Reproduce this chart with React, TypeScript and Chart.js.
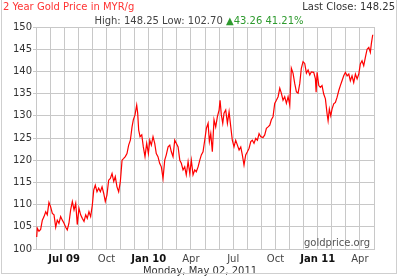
import React, { useEffect, useRef } from "react";
import { Chart, registerables } from "chart.js";

Chart.register(...registerables);

// months since May 1, 2009
const monthPos = [
  0.05, 0.09, 0.21, 0.33, 0.45, 0.57, 0.69, 0.8, 0.92, 1.04, 1.16, 1.28, 1.4, 1.51, 1.63, 1.75, 1.87, 1.99,
  2.11, 2.22, 2.34, 2.46, 2.58, 2.7, 2.82, 2.93, 3.05, 3.17, 3.29, 3.41, 3.53, 3.64, 3.76, 3.88, 4.0,
  4.1, 4.21, 4.33, 4.45, 4.57, 4.69, 4.81, 4.92, 5.04, 5.16, 5.28, 5.4, 5.52, 5.63, 5.75, 5.87, 5.99,
  6.11, 6.23, 6.34, 6.46, 6.58, 6.7, 6.82, 6.91, 7.03, 7.15, 7.22, 7.29, 7.39, 7.51, 7.62, 7.74, 7.86, 7.98,
  8.08, 8.19, 8.31, 8.43, 8.54, 8.66, 8.78, 8.9, 9.02, 9.14, 9.25, 9.38, 9.5, 9.61, 9.73, 9.85, 9.96,
  10.09, 10.21, 10.32, 10.44, 10.56, 10.67, 10.8, 10.92, 11.03, 11.15, 11.27, 11.38, 11.51, 11.63, 11.74, 11.86, 11.98,
  12.1, 12.22, 12.31, 12.41, 12.52, 12.64, 12.76, 12.88, 13.0, 13.07, 13.16, 13.26, 13.35, 13.47, 13.59, 13.71, 13.83, 13.94,
  14.06, 14.18, 14.3, 14.42, 14.54, 14.65, 14.77, 14.89, 15.01, 15.13, 15.25, 15.36, 15.48, 15.6, 15.72, 15.84, 15.96,
  16.12, 16.24, 16.36, 16.48, 16.6, 16.71, 16.83, 16.95, 17.07, 17.19, 17.31, 17.42, 17.54, 17.66, 17.78, 17.9,
  18.02, 18.13, 18.25, 18.37, 18.49, 18.61, 18.73, 18.84, 18.96, 19.08, 19.2, 19.32, 19.44, 19.55, 19.72, 19.84, 19.89, 19.96,
  20.08, 20.19, 20.31, 20.43, 20.55, 20.67, 20.74, 20.83, 20.93, 21.02, 21.14, 21.26, 21.38, 21.5, 21.61, 21.73, 21.85, 21.97,
  22.09, 22.21, 22.32, 22.44, 22.56, 22.68, 22.8, 22.92, 23.03, 23.15, 23.27, 23.39, 23.51, 23.63, 23.74, 23.81, 23.91,
];

// MYR per gram
const prices = [
  102.7, 104.7, 104.0, 104.4, 106.5, 107.3, 108.4, 107.7, 110.5, 109.5, 108.0, 107.7, 104.9, 106.5, 105.8, 107.3, 106.5, 105.8,
  104.9, 104.3, 105.8, 108.8, 110.7, 108.8, 110.3, 105.5, 109.2, 107.7, 106.9, 106.2, 107.7, 106.9, 108.4, 107.3, 109.9,
  113.3, 114.4, 112.9, 113.7, 112.9, 114.0, 112.5, 110.7, 112.2, 115.5, 115.9, 117.0, 115.2, 116.3, 114.0, 112.9, 115.2,
  120.0, 120.4, 120.8, 121.5, 123.4, 124.5, 127.5, 129.1, 130.2, 132.4, 130.6, 126.8, 125.3, 125.7, 123.0, 120.8, 123.8, 121.5,
  124.5, 123.4, 125.3, 123.8, 121.5, 120.8, 119.3, 118.5, 115.9, 120.0, 121.2, 123.0, 123.4, 121.9, 120.8, 124.5, 123.8,
  123.0, 120.0, 119.3, 117.8, 118.5, 116.7, 119.7, 117.0, 120.0, 116.7, 117.8, 117.4, 118.5, 120.0, 121.2, 121.9, 124.5,
  127.2, 128.3, 124.2, 126.0, 121.9, 129.1, 127.5, 129.8, 131.3, 133.5, 130.2, 128.3, 130.6, 131.3, 128.3, 130.9, 127.5, 124.5,
  123.0, 124.5, 123.4, 122.3, 123.0, 121.2, 118.9, 121.2, 121.9, 122.7, 124.2, 124.5, 123.8, 124.9, 124.5, 126.0, 125.3,
  125.1, 125.7, 127.2, 127.5, 127.9, 129.1, 129.8, 132.8, 133.5, 134.3, 136.2, 135.1, 133.5, 134.3, 132.8, 134.3,
  132.4, 140.7, 139.6, 137.3, 135.4, 135.1, 137.3, 140.7, 142.2, 141.8, 139.6, 140.3, 139.2, 139.9, 139.8, 138.3, 135.3, 139.8,
  136.8, 136.4, 136.8, 134.9, 133.8, 130.4, 128.9, 131.5, 130.0, 131.5, 132.7, 133.0, 134.2, 135.7, 136.8, 137.9, 139.0, 139.8,
  139.0, 139.4, 137.9, 139.0, 137.5, 139.4, 138.3, 139.4, 141.7, 142.4, 141.3, 143.2, 145.0, 145.4, 144.3, 146.2, 148.25,
];

// one entry per month boundary (index = months since May 1, 2009)
const xTickLabels = [
  "", "", "Jul 09", "", "", "Oct", "", "", "Jan 10", "", "", "Apr", "",
  "", "Jul", "", "", "Oct", "", "", "Jan 11", "", "", "Apr", "",
];
const boldLabels = ["Jul 09", "Jan 10", "Jan 11"];

const yMin = 100;
const yMax = 150;
const yStep = 5;

const titleText = "2 Year Gold Price in MYR/g";
const lastCloseText = "Last Close: 148.25";
const rangeText = "High: 148.25 Low: 102.70 ";
const changeText = "\u25B243.26 41.21%";
const dateText = "Monday, May 02, 2011";
const brandText = "goldprice.org";

const FONT = "'DejaVu Sans', Verdana, sans-serif";

export default function App() {
  const ref = useRef<HTMLCanvasElement>(null);

  useEffect(() => {
    const canvas = ref.current;
    if (!canvas) return;
    const chart = new Chart(canvas, {
      type: "line",
      data: {
        datasets: [
          {
            data: monthPos.map((m, i) => ({ x: m, y: prices[i] })),
            borderColor: "#ff0000",
            borderWidth: 1.2,
            pointRadius: 0,
            tension: 0,
            fill: false,
          },
        ],
      },
      options: {
        responsive: false,
        animation: false,
        devicePixelRatio: 1,
        layout: { padding: { left: 0, top: 27, right: 26, bottom: 11 } },
        plugins: {
          legend: { display: false },
          tooltip: { enabled: false },
          title: { display: false },
        },
        scales: {
          x: {
            type: "linear",
            min: 0,
            max: xTickLabels.length - 1,
            afterBuildTicks: (s: any) => {
              s.ticks = xTickLabels.map((_, i) => ({ value: i })).filter((t) => t.value > 0);
            },
            afterFit: (s: any) => {
              s.height = 16;
            },
            grid: { color: "#c8c8c8", drawTicks: false },
            border: { color: "#c8c8c8" },
            ticks: {
              autoSkip: false,
              maxRotation: 0,
              padding: 4,
              callback: (v: any) => xTickLabels[v] ?? "",
              color: (c: any) => (boldLabels.includes(xTickLabels[c.tick?.value]) ? "#111" : "#444"),
              font: (c: any) => ({
                family: FONT,
                size: 10,
                weight: boldLabels.includes(xTickLabels[c.tick?.value]) ? "bold" : "normal",
              }),
            },
          },
          y: {
            min: yMin,
            max: yMax,
            afterFit: (s: any) => {
              s.width = 36;
            },
            grid: { color: "#c8c8c8", tickLength: 3 },
            border: { color: "#c8c8c8" },
            ticks: {
              stepSize: yStep,
              padding: 1,
              color: "#333",
              font: { family: FONT, size: 10 },
            },
          },
        },
      },
    });
    return () => chart.destroy();
  }, []);

  const txt: React.CSSProperties = {
    position: "absolute",
    fontFamily: FONT,
    fontSize: 10,
    lineHeight: "12px",
    whiteSpace: "nowrap",
  };

  return (
    <div
      style={{
        position: "fixed",
        left: 0,
        top: 0,
        width: 400,
        height: 276,
        background: "#fff",
        overflow: "hidden",
      }}
    >
      <canvas ref={ref} width={400} height={276} style={{ position: "absolute", left: 0, top: 0 }} />
      <div style={{ ...txt, left: 3, top: 1, color: "#ff3333" }}>{titleText}</div>
      <div style={{ ...txt, right: 5, top: 1, color: "#333" }}>{lastCloseText}</div>
      <div style={{ ...txt, left: 0, width: 398, top: 14.5, textAlign: "center", color: "#444" }}>
        {rangeText}
        <span style={{ color: "#2e9a2e" }}>{changeText}</span>
      </div>
      <div style={{ ...txt, right: 30, top: 236.5, color: "#555" }}>{brandText}</div>
      <div style={{ ...txt, left: 0, width: 400, top: 264.5, textAlign: "center", color: "#333" }}>{dateText}</div>
      <div
        style={{
          position: "absolute",
          left: 1,
          top: -2,
          width: 396,
          height: 276,
          border: "1px solid #cfcfcf",
          boxSizing: "border-box",
          pointerEvents: "none",
        }}
      />
    </div>
  );
}
